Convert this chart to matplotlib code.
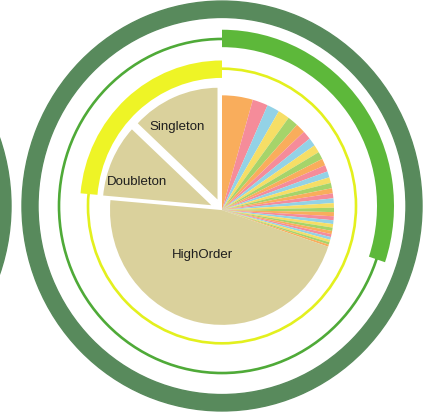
import matplotlib.pyplot as plt
from matplotlib.patches import Circle, Wedge

# slice sizes in degrees
group_labels = ['Singleton', 'Doubleton', 'HighOrder']
group_sizes = [47, 38, 166.4]
specific_sizes = [16, 8, 6.5, 6, 5.5, 5, 4.5, 4.2, 4, 3.8, 3.5, 3.3, 3.1, 2.9,
                  2.7, 2.6, 2.5, 2.4, 2.3, 2.2, 2.1, 2.0, 1.9, 1.8, 1.7, 1.6,
                  1.5, 1.4, 1.3, 1.2, 1.1]
stripe_colors = ['#F9AD5C', '#F58C9A', '#93D2E6', '#F6DE66', '#A6D46A']

beige = '#DAD19C'
yellow = '#EEF426'
green = '#5DB83A'
dark_green = '#588A5C'

fig = plt.figure(figsize=(4.25, 4.14), dpi=100)
ax = fig.add_axes([0, 0, 1, 1])

# neighbouring ring peeking in from the left
ax.add_patch(Wedge((-411, 0), 200, 0, 360, width=16, color=dark_green))

# outer dark ring
ax.add_patch(Wedge((0, 0), 200, 0, 360, width=16, color=dark_green))

# thin guide rings
ax.add_patch(Circle((0, 0), 163, fill=False, lw=1.9, ec='#4FAA38'))
ax.add_patch(Circle((0, 0), 134, fill=False, lw=1.9, ec='#E3F01E'))

# arc over the specific slices
spec_total = sum(specific_sizes)
ax.pie([spec_total, 360 - spec_total], radius=172, startangle=90,
       counterclock=False, colors=[green, 'none'],
       wedgeprops=dict(width=17, linewidth=0))

# arc over singleton + doubleton
low_total = group_sizes[0] + group_sizes[1]
ax.pie([low_total, 360 - low_total], radius=142, startangle=90,
       counterclock=True, colors=[yellow, 'none'],
       wedgeprops=dict(width=17, linewidth=0))

# main pie, clockwise from the top
values = specific_sizes + [group_sizes[2], group_sizes[1], group_sizes[0]]
colors = [stripe_colors[i % 5] for i in range(len(specific_sizes))] + [beige] * 3
explode = [0] * len(specific_sizes) + [0, 9, 9]
wedges, _ = ax.pie(values, radius=112, center=(0, -4), startangle=90,
                   counterclock=False, colors=colors, explode=explode,
                   wedgeprops=dict(linewidth=0))
# white outline only on the two pulled-out slices
for w in wedges[-2:]:
    w.set_edgecolor('white')
    w.set_linewidth(1.3)

label_pos = {'Singleton': (-45, 78), 'Doubleton': (-85, 24), 'HighOrder': (-20, -47)}
for name in group_labels:
    x, y = label_pos[name]
    ax.text(x, y, name, ha='center', va='center', fontsize=9.5,
            family='Liberation Sans', color='#1e1e1e')

ax.set_aspect('auto')
ax.set_xlim(-222, 203)
ax.set_ylim(-202, 202)
ax.axis('off')

fig.savefig('out.png', dpi=100, facecolor='white')
